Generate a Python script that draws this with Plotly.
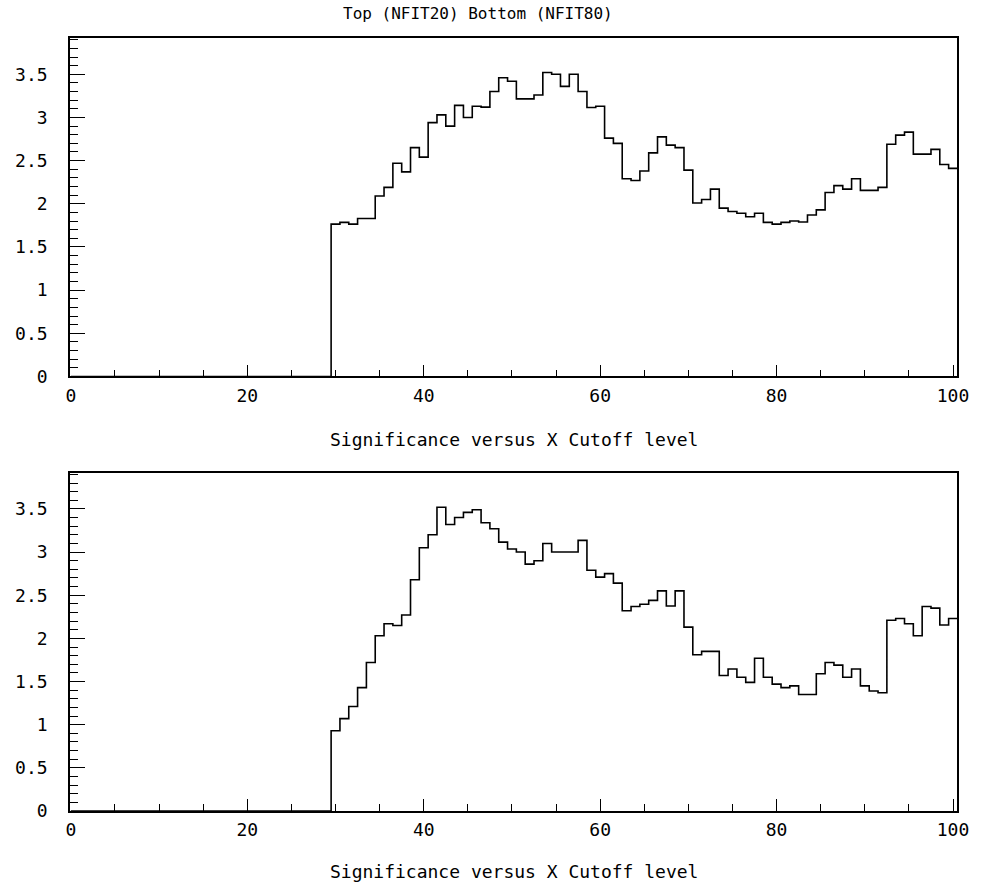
import plotly.graph_objects as go

# Bin centres (width 1) and significance values
bins = list(range(30, 101))

top_vals = [1.765, 1.785, 1.765, 1.83, 1.83, 2.09, 2.19, 2.47, 2.37, 2.65,
            2.54, 2.94, 3.03, 2.90, 3.14, 3.00, 3.13, 3.12, 3.30, 3.46,
            3.42, 3.215, 3.215, 3.26, 3.52, 3.50, 3.36, 3.50, 3.30, 3.115,
            3.13, 2.76, 2.70, 2.29, 2.27, 2.38, 2.59, 2.775, 2.68, 2.65,
            2.39, 2.01, 2.05, 2.17, 1.95, 1.91, 1.89, 1.85, 1.89, 1.785,
            1.765, 1.785, 1.80, 1.79, 1.87, 1.93, 2.13, 2.21, 2.17, 2.29,
            2.155, 2.155, 2.19, 2.69, 2.795, 2.83, 2.575, 2.575, 2.63, 2.455,
            2.41]

bottom_vals = [0.93, 1.07, 1.21, 1.43, 1.72, 2.03, 2.17, 2.15, 2.27, 2.68,
               3.05, 3.20, 3.52, 3.32, 3.40, 3.46, 3.49, 3.34, 3.27, 3.115,
               3.035, 3.00, 2.86, 2.90, 3.10, 3.00, 3.00, 3.00, 3.135, 2.79,
               2.71, 2.75, 2.64, 2.32, 2.37, 2.395, 2.44, 2.55, 2.375, 2.55,
               2.13, 1.81, 1.85, 1.85, 1.57, 1.645, 1.55, 1.49, 1.77, 1.55,
               1.47, 1.43, 1.45, 1.35, 1.35, 1.59, 1.72, 1.69, 1.55, 1.645,
               1.45, 1.39, 1.37, 2.21, 2.23, 2.17, 2.03, 2.37, 2.35, 2.155,
               2.23]

title_text = "Top (NFIT20) Bottom (NFIT80)"
xtitle_text = "Significance versus X Cutoff level"

FONT = "DejaVu Sans Mono"


def step_xy(centres, vals):
    # histogram outline: starts on the axis at x=0, steps at the bin edges
    xs = [0.0] + [c - 0.5 for c in centres] + [centres[-1] + 0.5]
    ys = [0.0] + list(vals) + [vals[-1]]
    return xs, ys


fig = go.Figure()
for vals, xa, ya in [(top_vals, "x", "y"), (bottom_vals, "x2", "y2")]:
    xs, ys = step_xy(bins, vals)
    fig.add_trace(go.Scatter(x=xs, y=ys, mode="lines", line_shape="hv",
                             line=dict(color="black", width=1.6),
                             xaxis=xa, yaxis=ya, showlegend=False,
                             hoverinfo="skip"))

xcommon = dict(range=[-0.1, 100.45], dtick=20, tick0=0, ticks="inside",
               ticklen=12, tickwidth=1.3, tickcolor="black",
               minor=dict(dtick=5, ticks="inside", ticklen=7, tickwidth=1.3,
                          tickcolor="black"),
               showline=True, linecolor="black", linewidth=1.6, mirror=True,
               showgrid=False, zeroline=False,
               tickfont=dict(family=FONT, size=18, color="black"),
               ticklabelstandoff=2)
ycommon = dict(range=[0, 3.92], dtick=0.5, tick0=0, ticks="inside",
               ticklen=15, tickwidth=1.3, tickcolor="black",
               minor=dict(dtick=0.1, ticks="inside", ticklen=8, tickwidth=1.3,
                          tickcolor="black"),
               showline=True, linecolor="black", linewidth=1.6, mirror=True,
               showgrid=False, zeroline=False,
               tickfont=dict(family=FONT, size=18, color="black"),
               ticklabelstandoff=17)

fig.update_layout(
    width=981, height=888,
    margin=dict(l=70, r=19, t=38, b=77),
    paper_bgcolor="white", plot_bgcolor="white",
    xaxis=dict(domain=[0, 1], anchor="y", **xcommon),
    yaxis=dict(domain=[0.5621, 1.0], anchor="x", **ycommon),
    xaxis2=dict(domain=[0, 1], anchor="y2", **xcommon),
    yaxis2=dict(domain=[0.0, 0.4377], anchor="x2", **ycommon),
    annotations=[
        dict(text=title_text, xref="paper", yref="paper", x=0.4596, y=1.0323,
             xanchor="center", yanchor="middle", showarrow=False,
             font=dict(family=FONT, size=16, color="black")),
        dict(text=xtitle_text, xref="paper", yref="paper", x=0.5, y=0.48,
             xanchor="center", yanchor="middle", showarrow=False,
             font=dict(family=FONT, size=18, color="black")),
        dict(text=xtitle_text, xref="paper", yref="paper", x=0.5, y=-0.0789,
             xanchor="center", yanchor="middle", showarrow=False,
             font=dict(family=FONT, size=18, color="black")),
    ],
)

fig.write_html("out.html")
